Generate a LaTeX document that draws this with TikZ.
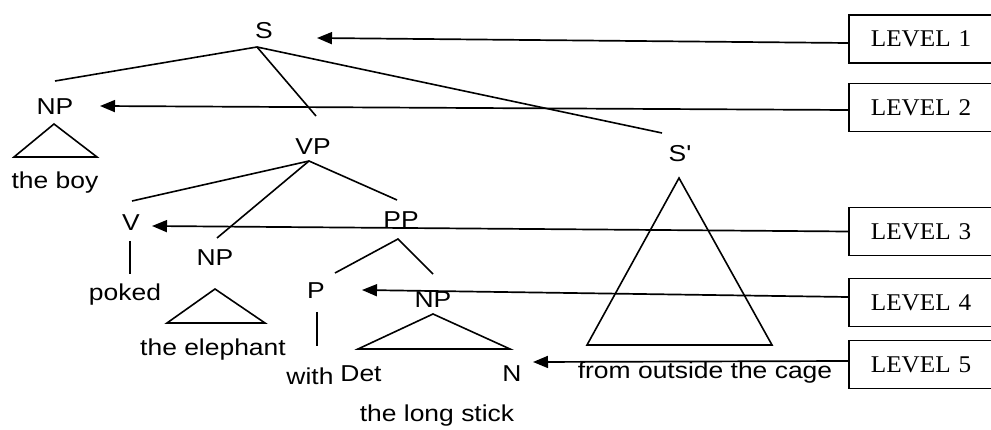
\documentclass[tikz,border=0pt]{standalone}
\usepackage{fontspec}
\setmainfont{Liberation Serif}
\newfontfamily\treefont[FakeStretch=1.15]{Liberation Sans}
\newfontfamily\boxfont[FakeStretch=1.05]{Liberation Serif}
\usetikzlibrary{arrows.meta}
\begin{document}
\begin{tikzpicture}[x=1pt,y=-1pt,
  lbl/.style={font=\treefont\fontsize{23}{25}\selectfont, inner sep=0pt, anchor=center},
  edge/.style={line width=1.6pt},
  levelbox/.style={draw, line width=1.8pt, font=\boxfont\fontsize{24}{26}\selectfont,
    anchor=west, minimum height=48pt, text width=120pt, align=left, inner xsep=22pt},
  levelarrow/.style={line width=1.7pt, -{Triangle[length=15pt,width=12pt]}}]
\useasboundingbox (0,0) rectangle (991,430);
\begin{scope}
\clip (0,0) rectangle (991,430);
% labels
\node[lbl] (S) at (264,31) {S};
\node[lbl] (NP1) at (55,107) {NP};
\node[lbl] (boy) at (55,183) {the boy};
\node[lbl] (VP) at (313,147) {VP};
\node[lbl] (V) at (131,223) {V};
\node[lbl] (NP2) at (215,258) {NP};
\node[lbl] (poked) at (125,295) {poked};
\node[lbl] (eleph) at (213,350) {the elephant};
\node[lbl] (PP) at (401,220) {PP};
\node[lbl] (P) at (316,291) {P};
\node[lbl] (NP3) at (433,300) {NP};
\node[lbl] (with) at (310,376) {with};
\node[lbl] (Det) at (361,374) {Det};
\node[lbl] (N) at (512,374) {N};
\node[lbl] (stick) at (437,416) {the long stick};
\node[lbl] (Sp) at (680,154) {S'};
\node[lbl] (cage) at (705,373) {from outside the cage};
% tree coordinates
\coordinate (sA) at (257,47);
\coordinate (sNP) at (55,81);
\coordinate (sVP) at (316,116);
\coordinate (sSp) at (662,133);
\coordinate (vA) at (309,161);
\coordinate (vV) at (132,201);
\coordinate (vNP) at (217,238);
\coordinate (vPP) at (397,200);
\coordinate (pA) at (398,239);
\coordinate (pP) at (335,273);
\coordinate (pNP) at (433,274);
\coordinate (vt) at (130,241);
\coordinate (vb) at (130,274);
\coordinate (pt) at (317,312);
\coordinate (pb) at (317,346);
\draw[edge] (sNP) -- (sA) -- (sSp);
\draw[edge] (sA) -- (sVP);
\draw[edge] (vV) -- (vA) -- (vPP);
\draw[edge] (vA) -- (vNP);
\draw[edge] (pP) -- (pA) -- (pNP);
\draw[edge] (vt) -- (vb);
\draw[edge] (pt) -- (pb);
% triangles
\draw[edge, line join=miter] (54,124) -- (97,157) -- (14,157) -- cycle;
\draw[edge, line join=miter] (215,289) -- (265,323) -- (167,323) -- cycle;
\draw[edge, line join=miter] (433,314) -- (510,349) -- (358,349) -- cycle;
\draw[edge, line join=miter] (679,178) -- (772,345) -- (587,345) -- cycle;
% level boxes
\node[levelbox] (L1) at (848,39) {LEVEL 1};
\node[levelbox] (L2) at (848,107.5) {LEVEL 2};
\node[levelbox] (L3) at (848,231.5) {LEVEL 3};
\node[levelbox] (L4) at (848,302.5) {LEVEL 4};
\node[levelbox] (L5) at (848,364.5) {LEVEL 5};
\coordinate (t1) at (317,38);
\coordinate (t2) at (100,106);
\coordinate (t3) at (152,226);
\coordinate (t4) at (362,290);
\coordinate (t5) at (533,362);
\draw[levelarrow] ([yshift=-4pt]L1.west) -- (t1);
\draw[levelarrow] ([yshift=-2.5pt]L2.west) -- (t2);
\draw[levelarrow] (L3.west) -- (t3);
\draw[levelarrow] ([yshift=5.5pt]L4.west) -- (t4);
\draw[levelarrow] ([yshift=3.5pt]L5.west) -- (t5);
\end{scope}
\end{tikzpicture}
\end{document}
